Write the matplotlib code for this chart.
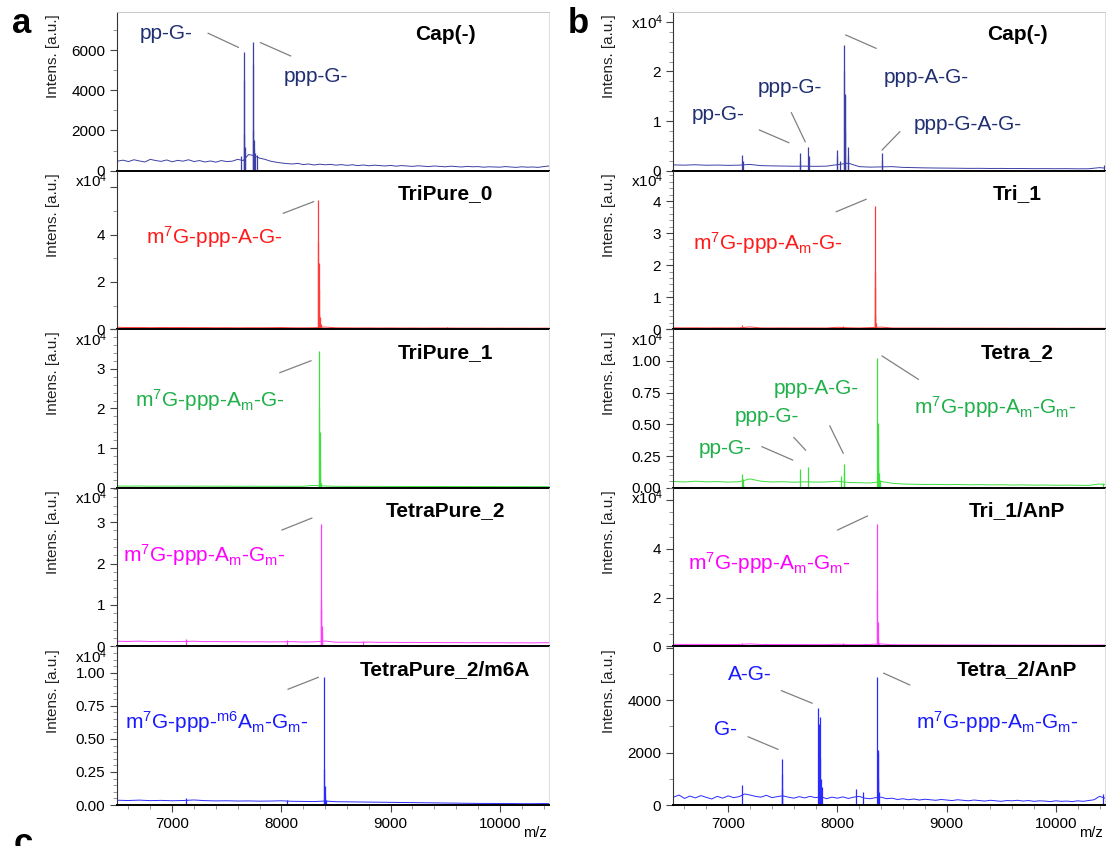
import matplotlib.pyplot as plt
from matplotlib.ticker import MultipleLocator, FuncFormatter

plt.rcParams['font.family'] = ['Liberation Sans', 'DejaVu Sans']
plt.rcParams['mathtext.default'] = 'regular'

# m/z grids for the baselines (every 100 Da, and every 50 Da for the noisy traces)
mz_grid = list(range(6500, 10600, 100))
mz_grid_fine = list(range(6500, 10550, 50))

# ---------------- panel a ----------------
a_titles = ["Cap(-)", "TriPure_0", "TriPure_1", "TetraPure_2", "TetraPure_2/m6A"]

a1_base = [470, 520, 450, 540, 480, 430, 560, 500, 460, 530, 440, 510, 470, 540, 450, 500, 430, 480, 420, 500,
           450, 470, 560, 500, 800, 750, 620, 560, 470, 420, 380, 350, 330, 360, 300, 330, 280, 320, 290, 310,
           270, 300, 260, 290, 250, 280, 240, 270, 250, 230, 260, 220, 250, 230, 210, 240, 220, 200, 230, 210,
           190, 220, 200, 180, 210, 190, 200, 170, 190, 180, 170, 200, 180, 160, 190, 170, 180, 160, 200, 230, 210]
a1_peak_mz = [7630, 7655, 7657, 7660, 7664, 7670, 7737, 7739, 7742, 7746, 7752, 7760, 7775]
a1_peak_h = [750, 5900, 4500, 1800, 1200, 900, 6400, 5300, 2000, 1500, 1100, 900, 800]
a1_labels = ["pp-G-", "ppp-G-"]

a2_base = [800, 700, 750, 650, 720, 680, 700, 650, 680, 620, 650, 600, 640, 620, 650, 700, 600, 580, 620, 900, 600,
           560, 540, 560, 520, 540, 500, 520, 480, 520, 500, 480, 460, 480, 450, 470, 440, 460, 430, 450, 440]
a2_peak_mz = [8335, 8337, 8340, 8343, 8347, 8352, 8360, 9515]
a2_peak_h = [54500, 37000, 28000, 17000, 6500, 5000, 2000, 1000]
a2_labels = ["m$^7$G-ppp-A-G-"]

a3_base = [450, 420, 460, 400, 430, 410, 440, 390, 420, 400, 410, 380, 400, 390, 380, 400, 370, 390, 600, 450, 380,
           360, 370, 350, 360, 340, 350, 330, 340, 320, 330, 310, 320, 300, 310, 300, 290, 300, 280, 290, 280]
a3_peak_mz = [8345, 8347, 8350, 8353, 8357, 8364]
a3_peak_h = [34500, 20000, 14000, 6700, 2400, 1200]
a3_labels = ["m$^7$G-ppp-A$_m$-G-"]

a4_base = [1250, 1200, 1280, 1180, 1220, 1150, 1200, 1250, 1150, 1180, 1120, 1150, 1100, 1130, 1080, 1120, 1150,
           1050, 1100, 1300, 1000, 1020, 980, 1050, 960, 990, 940, 970, 920, 950, 900, 930, 880, 910, 870, 890, 850,
           880, 840, 900, 860]
a4_peak_mz = [7130, 8050, 8360, 8362, 8365, 8369, 8374, 8750]
a4_peak_h = [1800, 1600, 29500, 11500, 9000, 5000, 2500, 1400]
a4_labels = ["m$^7$G-ppp-A$_m$-G$_m$-"]

a5_base = [360, 340, 370, 330, 350, 320, 340, 380, 330, 310, 320, 300, 310, 290, 300, 320, 280, 270, 260, 300, 250,
           240, 230, 220, 210, 200, 190, 180, 170, 160, 150, 140, 130, 120, 120, 110, 110, 100, 100, 110, 100]
a5_peak_mz = [7130, 8050, 8391, 8393, 8396, 8400, 8410]
a5_peak_h = [500, 350, 9700, 2700, 1450, 700, 400]
a5_labels = ["m$^7$G-ppp-$^{m6}$A$_m$-G$_m$-"]

# ---------------- panel b ----------------
b_titles = ["Cap(-)", "Tri_1", "Tetra_2", "Tri_1/AnP", "Tetra_2/AnP"]

b1_base = [1150, 1100, 1180, 1080, 1120, 1060, 1100, 1250, 1000, 950, 920, 880, 900, 860, 900, 1200, 1500, 800, 700,
           750, 800, 650, 600, 550, 520, 500, 480, 450, 460, 430, 440, 410, 420, 390, 400, 380, 390, 360, 370, 600, 400]
b1_peak_mz = [7129, 7135, 7654, 7658, 7733, 7737, 7995, 7999, 8020, 8061, 8063, 8066, 8069, 8072, 8093, 8097, 8404,
              8408, 10440]
b1_peak_h = [3200, 2000, 3600, 2000, 4800, 3000, 4200, 3000, 2000, 25300, 20000, 15000, 15500, 8000, 4800, 3000,
             3500, 2200, 1100]
b1_labels = ["pp-G-", "ppp-G-", "ppp-A-G-", "ppp-G-A-G-"]

b2_base = [450, 420, 440, 400, 430, 410, 420, 700, 400, 390, 410, 380, 400, 390, 380, 600, 450, 380, 500, 650, 380,
           360, 370, 350, 360, 340, 350, 330, 340, 320, 330, 310, 320, 300, 310, 300, 290, 300, 280, 290, 280]
b2_peak_mz = [7130, 8050, 8340, 8342, 8345, 8348, 8355]
b2_peak_h = [1200, 1000, 38500, 18000, 13000, 4500, 2000]
b2_labels = ["m$^7$G-ppp-A$_m$-G-"]

b3_base = [500, 460, 520, 470, 490, 450, 480, 700, 520, 460, 480, 440, 470, 450, 460, 520, 420, 400, 380, 500, 360,
           300, 280, 260, 270, 250, 260, 240, 250, 230, 240, 220, 230, 210, 220, 200, 210, 200, 190, 300, 200]
b3_peak_mz = [7129, 7135, 7658, 7733, 8035, 8061, 8064, 8367, 8369, 8372, 8376, 8382, 8390, 10430]
b3_peak_h = [1070, 700, 1500, 1660, 900, 1900, 1300, 10200, 5100, 4200, 1600, 1200, 600, 350]
b3_labels = ["pp-G-", "ppp-G-", "ppp-A-G-", "m$^7$G-ppp-A$_m$-G$_m$-"]

b4_base = [850, 800, 830, 780, 810, 770, 800, 1000, 780, 760, 770, 740, 760, 730, 740, 900, 720, 700, 800, 1000, 680,
           660, 650, 640, 630, 620, 610, 600, 590, 580, 570, 560, 550, 540, 530, 520, 510, 500, 500, 550, 500]
b4_peak_mz = [7130, 8050, 8365, 8367, 8370, 8375, 8382]
b4_peak_h = [1500, 1200, 50000, 23000, 10000, 3500, 1500]
b4_labels = ["m$^7$G-ppp-A$_m$-G$_m$-"]

b5_base = [300, 380, 250, 340, 270, 360, 290, 230, 330, 260, 350, 280, 320, 420, 380, 330, 300, 370, 280, 320,
           350, 300, 260, 320, 270, 330, 280, 320, 240, 300, 260, 310, 250, 300, 330, 260, 240, 280, 300, 240,
           260, 210, 240, 200, 230, 190, 220, 200, 180, 210, 190, 170, 200, 180, 160, 190, 170, 150, 180, 160,
           140, 170, 160, 180, 150, 170, 140, 160, 150, 130, 160, 140, 150, 130, 160, 140, 170, 200, 330, 260, 200]
b5_peak_mz = [7129, 7490, 7493, 7497, 7825, 7829, 7840, 7845, 7850, 7858, 8167, 8230, 8367, 8369, 8372, 8376, 8385,
              10430]
b5_peak_h = [750, 1750, 1200, 600, 3700, 3100, 3350, 1800, 1000, 700, 600, 500, 4870, 2100, 2000, 1000, 500, 420]
b5_labels = ["A-G-", "G-", "m$^7$G-ppp-A$_m$-G$_m$-"]

x_ticks = [7000, 8000, 9000, 10000]

# ---------------- layout / style ----------------
NAVY_LINE, NAVY_TXT = '#3b3fa6', '#1f2f72'
RED_LINE, RED_TXT = '#ff3b3b', '#ff1a1a'
GRN_LINE, GRN_TXT = '#3ee03e', '#1fb04a'
MAG_LINE, MAG_TXT = '#ff3cff', '#ff00ff'
BLU_LINE, BLU_TXT = '#2b2bff', '#1a1aff'

# (ylim top in plotted units, scale, major, minor, fmt, last labelled tick, line colour, text colour)
a_cfg = [
    (7900, 1, 2000, 1000, '%d', 6000, NAVY_LINE, NAVY_TXT),
    (6.7, 1e4, 2, 1, '%d', 4, RED_LINE, RED_TXT),
    (4.0, 1e4, 1, 0.2, '%d', 3, GRN_LINE, GRN_TXT),
    (3.83, 1e4, 1, 0.2, '%d', 3, MAG_LINE, MAG_TXT),
    (1.2, 1e4, 0.25, 0.05, '%.2f', 1.0, BLU_LINE, BLU_TXT),
]
b_cfg = [
    (3.2, 1e4, 1, 0.2, '%d', 2, NAVY_LINE, NAVY_TXT),
    (4.95, 1e4, 1, 0.2, '%d', 4, RED_LINE, RED_TXT),
    (1.25, 1e4, 0.25, 0.05, '%.2f', 1.0, GRN_LINE, GRN_TXT),
    (6.5, 1e4, 2, 0.5, '%d', 4, MAG_LINE, MAG_TXT),
    (6050, 1, 2000, 1000, '%d', 4000, BLU_LINE, BLU_TXT),
]

# label anchor positions (axes fraction) and leader segments
a_text_pos = [[(0.052, 0.866), (0.385, 0.596)], [(0.067, 0.583)], [(0.042, 0.553)], [(0.015, 0.576)],
              [(0.018, 0.525)]]
a_leaders = [[(0.211, 0.866, 0.281, 0.777), (0.332, 0.807, 0.402, 0.723)], [(0.385, 0.731, 0.455, 0.804)],
             [(0.377, 0.726, 0.449, 0.801)], [(0.382, 0.734, 0.451, 0.809)], [(0.396, 0.730, 0.466, 0.805)]]
b_text_pos = [[(0.044, 0.351), (0.196, 0.525), (0.488, 0.588), (0.558, 0.288)], [(0.046, 0.543)],
              [(0.059, 0.249), (0.143, 0.448), (0.233, 0.627), (0.558, 0.508)], [(0.035, 0.526)],
              [(0.127, 0.820), (0.094, 0.473), (0.562, 0.525)]]
b_leaders = [[(0.200, 0.256, 0.268, 0.176), (0.274, 0.365, 0.306, 0.182), (0.400, 0.855, 0.470, 0.771),
              (0.525, 0.245, 0.484, 0.130)],
             [(0.378, 0.741, 0.447, 0.819)],
             [(0.206, 0.259, 0.277, 0.175), (0.280, 0.317, 0.307, 0.237), (0.363, 0.390, 0.394, 0.218),
              (0.484, 0.831, 0.568, 0.684)],
             [(0.381, 0.734, 0.450, 0.822)],
             [(0.251, 0.721, 0.322, 0.642), (0.174, 0.430, 0.243, 0.351), (0.488, 0.831, 0.548, 0.757)]]

a_data = [(mz_grid_fine, a1_base, a1_peak_mz, a1_peak_h, a1_labels),
          (mz_grid, a2_base, a2_peak_mz, a2_peak_h, a2_labels),
          (mz_grid, a3_base, a3_peak_mz, a3_peak_h, a3_labels),
          (mz_grid, a4_base, a4_peak_mz, a4_peak_h, a4_labels),
          (mz_grid, a5_base, a5_peak_mz, a5_peak_h, a5_labels)]
b_data = [(mz_grid, b1_base, b1_peak_mz, b1_peak_h, b1_labels),
          (mz_grid, b2_base, b2_peak_mz, b2_peak_h, b2_labels),
          (mz_grid, b3_base, b3_peak_mz, b3_peak_h, b3_labels),
          (mz_grid, b4_base, b4_peak_mz, b4_peak_h, b4_labels),
          (mz_grid_fine, b5_base, b5_peak_mz, b5_peak_h, b5_labels)]

fig = plt.figure(figsize=(11.12, 8.46), dpi=100)
top = 1 - 12 / 846
row_h = 158.6 / 846
col_x = [117 / 1112, 673 / 1112]
col_w = 432 / 1112


def draw_panel(ax, data, cfg, title, text_pos, leaders, row, title_x):
    grid, base, pk_mz, pk_h, labels = data
    ytop, scale, major, minor, fmt, lab_max, lcol, tcol = cfg
    ax.plot(grid, [v / scale for v in base], color=lcol, lw=0.7)
    ax.vlines(pk_mz, 0, [v / scale for v in pk_h], color=lcol, lw=0.9)
    ax.set_xlim(6495, 10450)
    ax.set_ylim(0, ytop)
    ax.set_facecolor('none')

    ax.yaxis.set_major_locator(MultipleLocator(major))
    ax.yaxis.set_minor_locator(MultipleLocator(minor))
    ax.yaxis.set_major_formatter(FuncFormatter(
        lambda v, p: (fmt % v) if v <= lab_max + 1e-9 else ''))
    ax.tick_params(axis='y', which='major', length=5, labelsize=11, direction='out', color='#444444')
    ax.tick_params(axis='y', which='minor', length=3, direction='out', color='#888888')

    ax.spines['left'].set_color('#333333')
    ax.spines['bottom'].set_color('black')
    ax.spines['bottom'].set_linewidth(1.4)
    ax.spines['right'].set_color('#d8d8d8')
    ax.spines['right'].set_linewidth(0.6)
    if row == 0:
        ax.spines['top'].set_color('#c8c8c8')
        ax.spines['top'].set_linewidth(0.7)
    else:
        ax.spines['top'].set_visible(False)

    if row == 4:
        ax.set_xticks(x_ticks)
        ax.xaxis.set_minor_locator(MultipleLocator(200))
        ax.tick_params(axis='x', which='major', length=5, labelsize=11, direction='out', color='#444444')
        ax.tick_params(axis='x', which='minor', length=3, direction='out', color='#888888')
        ax.text(0.967, -0.177, 'm/z', transform=ax.transAxes, ha='center', va='center', fontsize=10.5)
    else:
        ax.tick_params(axis='x', which='both', bottom=False, labelbottom=False)

    ax.set_ylabel('Intens. [a.u.]', fontsize=11, color='#222222')
    ax.yaxis.set_label_coords(-0.132, 0.72)
    if scale != 1:
        ax.text(-0.022, 0.935, 'x10$^4$', transform=ax.transAxes, ha='right', va='center', fontsize=11)

    ax.text(title_x, 0.855, title, transform=ax.transAxes, ha='center', va='center',
            fontsize=15, fontweight='bold')
    for lab, (tx, ty) in zip(labels, text_pos):
        ax.text(tx, ty, lab, transform=ax.transAxes, ha='left', va='center', fontsize=15, color=tcol)
    for (x0, y0, x1, y1) in leaders:
        ax.plot([x0, x1], [y0, y1], transform=ax.transAxes, color='#808080', lw=0.9)


for col, (titles, datas, cfgs, tpos, leads, tx) in enumerate([
        (a_titles, a_data, a_cfg, a_text_pos, a_leaders, 0.76),
        (b_titles, b_data, b_cfg, b_text_pos, b_leaders, 0.797)]):
    for row in range(5):
        ax = fig.add_axes([col_x[col], top - (row + 1) * row_h, col_w, row_h])
        draw_panel(ax, datas[row], cfgs[row], titles[row], tpos[row], leads[row], row, tx)

fig.text(12 / 1112, 1 - 33 / 846, 'a', fontsize=25, fontweight='bold', va='baseline')
fig.text(568 / 1112, 1 - 33 / 846, 'b', fontsize=25, fontweight='bold', va='baseline')
fig.text(14 / 1112, -7 / 846, 'c', fontsize=25, fontweight='bold', va='baseline')

fig.savefig('out.png', dpi=100, facecolor='white')
